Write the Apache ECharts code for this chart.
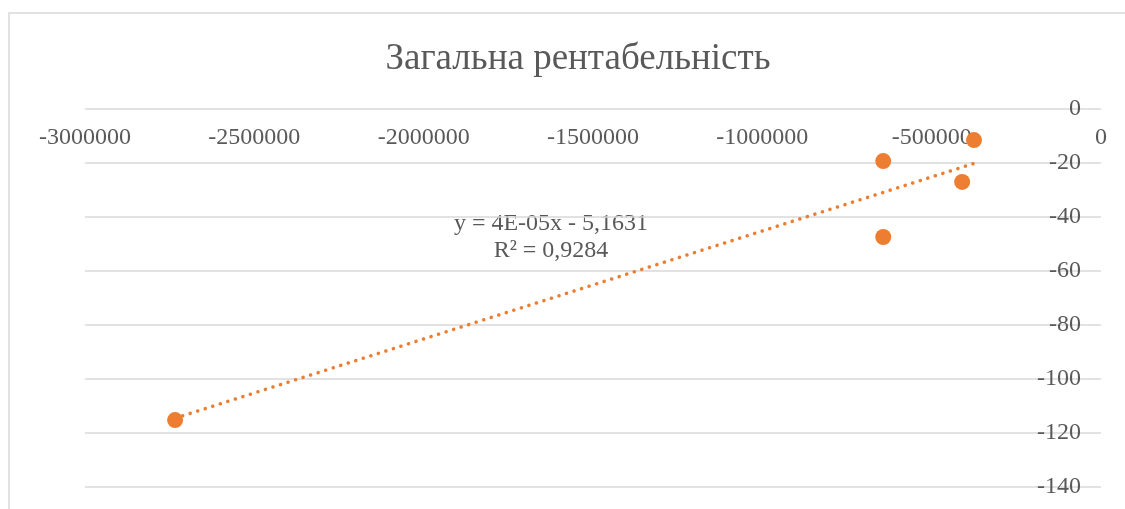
<!DOCTYPE html>
<html>
<head>
<meta charset="utf-8">
<script src="https://cdn.jsdelivr.net/npm/echarts@6/dist/echarts.min.js"></script>
<style>
  html, body { margin: 0; padding: 0; background: #fff; }
  #chart { width: 1125px; height: 509px; }
</style>
</head>
<body>
<div id="chart"></div>
<script>
// Observed points: X vs overall profitability Y
const xValues = [-2734000, -643000, -643000, -410000, -375000];
const yValues = [-115.2, -19.3, -47.4, -27.0, -11.5];

// Linear trend as stated in the equation label
const trendSlope = 0.00004;
const trendIntercept = -5.1631;
const trendLabel = ['y = 4E-05x - 5,1631', 'R² = 0,9284'];

const titleText = 'Загальна рентабельність';
const xTicks = { min: -3000000, max: 0, interval: 500000 };
const yTicks = { min: -140, max: 0, interval: 20 };

const points = xValues.map((x, i) => [x, yValues[i]]);
const xLo = Math.min(...xValues), xHi = Math.max(...xValues);
const trend = [xLo, xHi].map(x => [x, trendSlope * x + trendIntercept]);

const FONT = '"Liberation Serif", "Times New Roman", serif';
const TEXT = '#595959';
const ORANGE = '#ED7D31';
const GRID = '#D9D9D9';

const chart = echarts.init(document.getElementById('chart'));
chart.setOption({
  animation: false,
  backgroundColor: '#fff',
  title: {
    text: titleText,
    left: 573,
    top: 36,
    textAlign: 'center',
    textStyle: { fontFamily: FONT, fontSize: 37, fontWeight: 'normal', color: TEXT }
  },
  grid: { left: 85, right: 24, top: 109, bottom: 22, containLabel: false },
  xAxis: {
    type: 'value',
    position: 'top',
    min: xTicks.min, max: xTicks.max, interval: xTicks.interval,
    axisLine: { show: false },
    axisTick: { show: false },
    splitLine: { show: false },
    axisLabel: {
      inside: true, margin: 17,
      fontFamily: FONT, fontSize: 24, color: TEXT,
      showMinLabel: true, showMaxLabel: true,
      formatter: v => String(v)
    }
  },
  yAxis: {
    type: 'value',
    position: 'right',
    min: yTicks.min, max: yTicks.max, interval: yTicks.interval,
    axisLine: { show: false },
    axisTick: { show: false },
    splitLine: { show: true, lineStyle: { color: GRID, width: 1.5 } },
    axisLabel: {
      inside: true, margin: 20,
      fontFamily: FONT, fontSize: 24, color: TEXT,
      formatter: v => String(v)
    }
  },
  graphic: [
    {
      type: 'polyline', silent: true,
      shape: { points: [[9, 509], [9, 13], [1125, 13]] },
      style: { stroke: GRID, lineWidth: 1.5, fill: null }
    },
    {
      type: 'text', silent: true,
      x: 551, y: 210,
      style: {
        text: trendLabel.join('\n'),
        align: 'center', verticalAlign: 'top',
        font: '24px ' + FONT, fill: TEXT, lineHeight: 27
      }
    }
  ],
  series: [
    {
      name: 'trend', type: 'line', data: trend,
      showSymbol: false, symbol: 'none', z: 2,
      lineStyle: { color: ORANGE, width: 3.5, type: [0.1, 7.8], cap: 'round' }
    },
    {
      name: 'points', type: 'scatter', data: points,
      symbol: 'circle', symbolSize: 16, z: 3,
      itemStyle: { color: ORANGE, opacity: 1 }
    }
  ]
});
</script>
</body>
</html>
